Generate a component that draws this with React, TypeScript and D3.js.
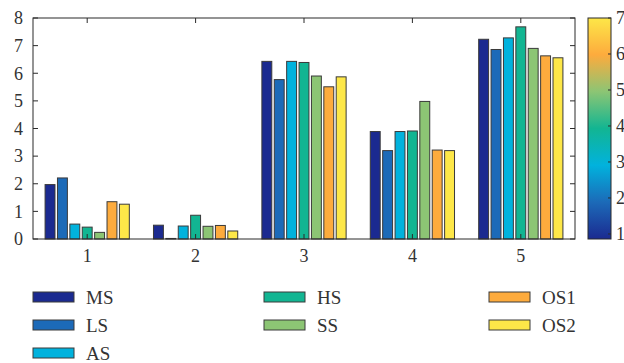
import React from 'react';
import * as d3 from 'd3';

const groups = [1, 2, 3, 4, 5];
const series = ['MS', 'LS', 'AS', 'HS', 'SS', 'OS1', 'OS2'];
const colors = ['#1b2a90', '#1c6ab8', '#01b2dd', '#12b592', '#8cc574', '#fdab3d', '#fde748'];

// values per series, one per group 1..5
const MS = [1.97, 0.5, 6.43, 3.89, 7.23];
const LS = [2.21, 0.02, 5.77, 3.2, 6.86];
const AS = [0.54, 0.47, 6.43, 3.89, 7.28];
const HS = [0.43, 0.86, 6.39, 3.91, 7.68];
const SS = [0.24, 0.46, 5.9, 4.98, 6.9];
const OS1 = [1.35, 0.49, 5.51, 3.22, 6.63];
const OS2 = [1.26, 0.29, 5.87, 3.2, 6.56];
const values = [MS, LS, AS, HS, SS, OS1, OS2];

const yTicks = [0, 1, 2, 3, 4, 5, 6, 7, 8];
const cbTicks = [1, 2, 3, 4, 5, 6, 7];

const W = 624;
const H = 363;
const plot = { left: 33, right: 575, top: 18, bottom: 239 };
const cb = { left: 588, right: 611 };
const FONT = 'Liberation Serif, Times New Roman, DejaVu Serif, serif';
const TEXT = '#333333';
const AXIS = '#2b2b2b';

export default function App() {
  const x = d3.scaleLinear().domain([0.5, 5.5]).range([plot.left, plot.right]);
  const y = d3.scaleLinear().domain([0, 8]).range([plot.bottom, plot.top]);
  const inner = d3.scaleBand<string>().domain(series).range([-0.4, 0.4]).paddingInner(0.2).paddingOuter(0.1);
  const cbScale = d3.scaleLinear().domain([0.86, 7]).range([plot.bottom, plot.top]);

  const bw = x(inner.bandwidth()) - x(0);
  const tickLen = 5;

  return (
    <svg width={W} height={H} style={{ position: 'absolute', left: 0, top: 0, background: '#fff' }}>
      <defs>
        <linearGradient id="parula" x1="0" y1="1" x2="0" y2="0">
          {colors.map((c, i) => (
            <stop key={c} offset={i / (colors.length - 1)} stopColor={c} />
          ))}
        </linearGradient>
      </defs>

      {/* bars */}
      {series.map((s, si) =>
        groups.map((g, gi) => {
          const x0 = x(g + (inner(s) as number));
          const v = values[si][gi];
          return (
            <rect
              key={s + g}
              x={x0}
              y={y(v)}
              width={bw}
              height={y(0) - y(v)}
              fill={colors[si]}
              stroke="#3a3a3a"
              strokeWidth={1}
            />
          );
        })
      )}

      {/* axes box */}
      <rect
        x={plot.left}
        y={plot.top}
        width={plot.right - plot.left}
        height={plot.bottom - plot.top}
        fill="none"
        stroke={AXIS}
        strokeWidth={1}
      />
      {groups.map(g => (
        <g key={'xt' + g}>
          <line x1={x(g)} x2={x(g)} y1={plot.bottom} y2={plot.bottom - tickLen} stroke={AXIS} />
          <line x1={x(g)} x2={x(g)} y1={plot.top} y2={plot.top + tickLen} stroke={AXIS} />
          <text x={x(g)} y={plot.bottom + 23} textAnchor="middle" fontFamily={FONT} fontSize={18} fill={TEXT}>
            {g}
          </text>
        </g>
      ))}
      {yTicks.map(t => (
        <g key={'yt' + t}>
          <line x1={plot.left} x2={plot.left + tickLen} y1={y(t)} y2={y(t)} stroke={AXIS} />
          <line x1={plot.right} x2={plot.right - tickLen} y1={y(t)} y2={y(t)} stroke={AXIS} />
          <text x={23} y={y(t)} dy="0.35em" textAnchor="end" fontFamily={FONT} fontSize={18} fill={TEXT}>
            {t}
          </text>
        </g>
      ))}

      {/* colorbar */}
      <rect
        x={cb.left}
        y={plot.top}
        width={cb.right - cb.left}
        height={plot.bottom - plot.top}
        fill="url(#parula)"
        stroke={AXIS}
        strokeWidth={1}
      />
      {cbTicks.map(t => (
        <g key={'cb' + t}>
          <line x1={cb.right} x2={cb.right - 3} y1={cbScale(t)} y2={cbScale(t)} stroke={AXIS} />
          <text x={616} y={cbScale(t)} dy="0.35em" fontFamily={FONT} fontSize={18} fill={TEXT}>
            {t}
          </text>
        </g>
      ))}

      {/* legend */}
      {series.map((s, i) => {
        const col = i < 3 ? 0 : i < 5 ? 1 : 2;
        const row = i < 3 ? i : i < 5 ? i - 3 : i - 5;
        const lx = [33, 264, 489][col];
        const ly = 292 + row * 28;
        return (
          <g key={'lg' + s}>
            <rect x={lx} y={ly} width={41} height={10} fill={colors[i]} stroke="#3a3a3a" strokeWidth={1} />
            <text x={lx + 53} y={ly + 5} dy="0.35em" fontFamily={FONT} fontSize={19} fill={TEXT}>
              {s}
            </text>
          </g>
        );
      })}
    </svg>
  );
}
